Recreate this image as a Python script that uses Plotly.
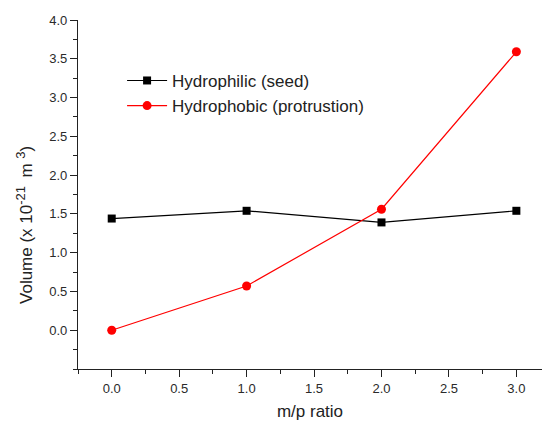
import plotly.graph_objects as go

ratio = [0.0, 1.0, 2.0, 3.0]
hydrophilic = [1.44, 1.54, 1.39, 1.54]
hydrophobic = [0.0, 0.57, 1.56, 3.59]
y_ticks = [0.0, 0.5, 1.0, 1.5, 2.0, 2.5, 3.0, 3.5, 4.0]
x_ticks = [0.0, 0.5, 1.0, 1.5, 2.0, 2.5, 3.0]

fig = go.Figure()
fig.add_trace(go.Scatter(x=ratio, y=hydrophilic, mode="lines+markers",
                         name="Hydrophilic (seed)",
                         line=dict(color="#000000", width=1.2),
                         marker=dict(symbol="square", size=8, color="#000000")))
fig.add_trace(go.Scatter(x=ratio, y=hydrophobic, mode="lines+markers",
                         name="Hydrophobic (protrustion)",
                         line=dict(color="#ff0000", width=1.2),
                         marker=dict(symbol="circle", size=9, color="#ff0000")))

axis_common = dict(showgrid=False, zeroline=False, showline=True, linecolor="#222",
                   linewidth=1.2, ticks="outside", ticklen=7, tickcolor="#222",
                   tickfont=dict(family="Liberation Sans, Arial", size=13, color="#2a2a2a"))

fig.update_layout(
    width=542, height=421,
    margin=dict(l=78, r=0, t=20, b=52),
    plot_bgcolor="white", paper_bgcolor="white",
    font=dict(family="Liberation Sans, Arial", color="#222"),
    xaxis=dict(range=[-0.25, 3.19], tickvals=x_ticks, ticktext=[f"{v:.1f}" for v in x_ticks],
               minor=dict(dtick=0.25, tick0=0, ticks="outside", ticklen=4, tickcolor="#222"),
               title=dict(text="m/p ratio", font=dict(size=17), standoff=12),
               automargin=False, **axis_common),
    yaxis=dict(range=[-0.5, 4.0], tickvals=y_ticks, ticktext=[f"{v:.1f}" for v in y_ticks],
               minor=dict(dtick=0.25, tick0=0, ticks="outside", ticklen=4, tickcolor="#222"),
               automargin=False, **axis_common),
    legend=dict(x=0.095, y=0.877, xanchor="left", yanchor="top", bgcolor="rgba(0,0,0,0)",
                font=dict(size=17, color="#222"), tracegroupgap=0, itemwidth=40),
    showlegend=True,
)

fig.add_annotation(
    text="Volume (x 10<sup><span style='font-size:13px'>-21 </span></sup> m <sup><span style='font-size:13px'>3</span></sup>)",
    xref="paper", yref="paper", x=-0.114, y=0.413, xanchor="center", yanchor="middle",
    textangle=-90, showarrow=False, font=dict(size=17, color="#222"),
)

fig.write_html("out.html")
